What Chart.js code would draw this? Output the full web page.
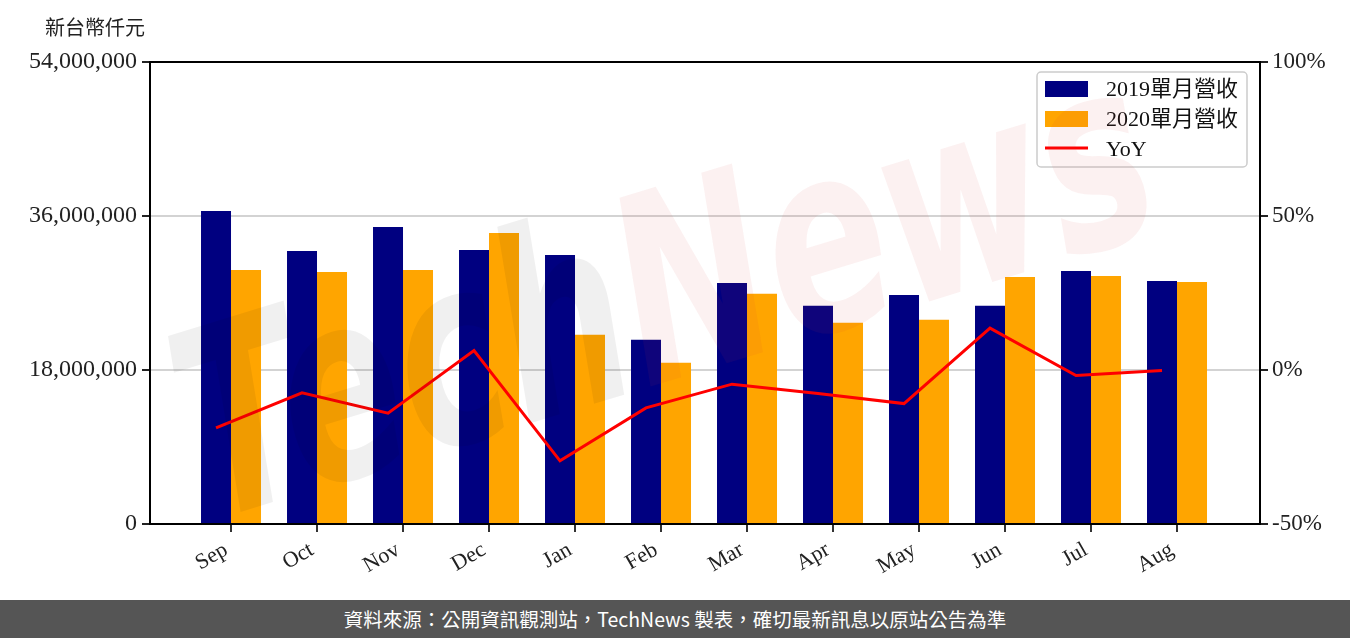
<!DOCTYPE html>
<html>
<head>
<meta charset="utf-8">
<script src="https://cdn.jsdelivr.net/npm/chart.js@4/dist/chart.umd.min.js"></script>
<style>
  html, body { margin: 0; padding: 0; background: #fff; }
  #wrap { position: relative; width: 1350px; height: 600px; }
  #footer { width: 1350px; height: 38px; background: #555555; color: #fff;
    font-family: "Noto Sans CJK TC", "Noto Sans", sans-serif; font-size: 19.5px;
    text-align: center; line-height: 38px; }
</style>
</head>
<body>
<div id="wrap"><canvas id="c" width="1350" height="600"></canvas></div>
<div id="footer">資料來源：公開資訊觀測站，TechNews 製表，確切最新訊息以原站公告為準</div>
<script>
const months = ['Sep','Oct','Nov','Dec','Jan','Feb','Mar','Apr','May','Jun','Jul','Aug'];
const rev2019 = [36.58, 31.91, 34.71, 32.03, 31.45, 21.53, 28.18, 25.50, 26.78, 25.50, 29.58, 28.41].map(v => v * 1e6);
const rev2020 = [29.70, 29.46, 29.70, 34.01, 22.11, 18.84, 26.90, 23.51, 23.86, 28.88, 28.99, 28.30].map(v => v * 1e6);
const yoy = [-18.8, -7.4, -14.0, 6.3, -29.5, -12.3, -4.6, -7.6, -10.9, 13.6, -1.8, -0.2];
const leftTicks = [0, 18000000, 36000000, 54000000];
const rightTicks = [-50, 0, 50, 100];
const seriesNames = ['2019單月營收', '2020單月營收', 'YoY'];
const unitLabel = '新台幣仟元';

const LATIN = '"Liberation Serif", "Noto Sans CJK TC", serif';
const CJK = '"Noto Sans CJK TC", sans-serif';

const lineOffset = -15 / 86;

const framePlugin = {
  id: 'frame',
  afterDraw(chart) {
    const { ctx, chartArea: a } = chart;
    ctx.save();
    ctx.strokeStyle = '#000';
    ctx.lineWidth = 2;
    ctx.beginPath();
    ctx.moveTo(a.left - 1, a.top);
    ctx.lineTo(a.right + 1, a.top);
    ctx.stroke();
    ctx.fillStyle = '#222';
    ctx.font = '20px ' + CJK;
    ctx.textBaseline = 'middle';
    ctx.textAlign = 'left';
    ctx.fillText(unitLabel, 45, 27);
    const bx = 1037, by = 72, bw = 210, bh = 95, r = 4;
    ctx.beginPath();
    ctx.moveTo(bx + r, by);
    ctx.arcTo(bx + bw, by, bx + bw, by + bh, r);
    ctx.arcTo(bx + bw, by + bh, bx, by + bh, r);
    ctx.arcTo(bx, by + bh, bx, by, r);
    ctx.arcTo(bx, by, bx + bw, by, r);
    ctx.closePath();
    ctx.fillStyle = 'rgba(255,255,255,0.8)';
    ctx.fill();
    ctx.strokeStyle = '#cccccc';
    ctx.lineWidth = 1.5;
    ctx.stroke();
    const ds = chart.data.datasets;
    const rows = [89, 119, 149];
    ds.forEach((d, i) => {
      const y = rows[i];
      if (d.type === 'line') {
        ctx.strokeStyle = d.borderColor;
        ctx.lineWidth = 3;
        ctx.beginPath();
        ctx.moveTo(1045, y - 1);
        ctx.lineTo(1088, y - 1);
        ctx.stroke();
      } else {
        ctx.fillStyle = d.backgroundColor;
        ctx.fillRect(1045, y - 8, 43, 16);
      }
      ctx.fillStyle = '#111';
      ctx.font = '22px ' + LATIN;
      ctx.textBaseline = 'middle';
      ctx.fillText(d.label, 1106, y + 1);
    });
    // watermark
    ctx.save();
    ctx.translate(670, 310);
    ctx.rotate(-17 * Math.PI / 180);
    ctx.scale(0.9, 1.3);
    ctx.font = 'italic bold 200px "DejaVu Sans", sans-serif';
    ctx.textBaseline = 'middle';
    const w1 = ctx.measureText('Tech').width;
    const w2 = ctx.measureText('News').width;
    const start = -(w1 + w2) / 2;
    ctx.textAlign = 'left';
    ctx.fillStyle = 'rgba(0,0,0,0.06)';
    ctx.fillText('Tech', start, 0);
    ctx.fillStyle = 'rgba(215,50,60,0.07)';
    ctx.fillText('News', start + w1, 0);
    ctx.restore();
    ctx.restore();
  }
};

new Chart(document.getElementById('c'), {
  data: {
    datasets: [
      { type: 'bar', label: seriesNames[0], data: months.map((m, i) => ({ x: i, y: rev2019[i] })),
        backgroundColor: '#000080', yAxisID: 'y', order: 2 },
      { type: 'bar', label: seriesNames[1], data: months.map((m, i) => ({ x: i, y: rev2020[i] })),
        backgroundColor: '#FFA500', yAxisID: 'y', order: 2 },
      { type: 'line', label: seriesNames[2], data: months.map((m, i) => ({ x: i + lineOffset, y: yoy[i] })),
        borderColor: '#FF0000', backgroundColor: '#FF0000', borderWidth: 3, pointRadius: 0,
        tension: 0, yAxisID: 'y1', order: 1 }
    ]
  },
  options: {
    responsive: false,
    animation: false,
    layout: { padding: { top: 62, left: 0, right: 0, bottom: 0 } },
    datasets: { bar: { categoryPercentage: 60 / 86, barPercentage: 1.0 } },
    plugins: { legend: { display: false }, tooltip: { enabled: false } },
    scales: {
      x: {
        type: 'linear',
        offset: false,
        min: -0.942, max: 11.965,
        afterBuildTicks: s => { s.ticks = months.map((m, i) => ({ value: i })); },
        afterFit: s => { s.height = 76; },
        ticks: {
          autoSkip: false, maxRotation: 30, minRotation: 30, padding: 5, labelOffset: -5,
          color: '#222', font: { family: LATIN, size: 22 },
          callback: v => months[v]
        },
        grid: { offset: false, drawOnChartArea: false, tickLength: 8, tickColor: '#333', lineWidth: 2 },
        border: { color: '#000', width: 2 }
      },
      y: {
        position: 'left', min: 0, max: 54000000,
        afterBuildTicks: s => { s.ticks = leftTicks.map(v => ({ value: v })); },
        afterFit: s => { s.width = 150; },
        ticks: {
          padding: 5, color: '#222', font: { family: LATIN, size: 24 },
          callback: v => v.toLocaleString('en-US')
        },
        grid: {
          color: c => (c.tick && (c.tick.value === 0 || c.tick.value === 54000000)) ? 'rgba(0,0,0,0)' : '#d3d3d3',
          lineWidth: 2, tickLength: 8, tickColor: '#222'
        },
        border: { color: '#000', width: 2 }
      },
      y1: {
        position: 'right', min: -50, max: 100,
        afterBuildTicks: s => { s.ticks = rightTicks.map(v => ({ value: v })); },
        afterFit: s => { s.width = 90; },
        ticks: {
          padding: 4, color: '#222', font: { family: LATIN, size: 23 },
          callback: v => v + '%'
        },
        grid: { drawOnChartArea: false, tickLength: 8, tickColor: '#222', lineWidth: 2 },
        border: { color: '#000', width: 2 }
      }
    }
  },
  plugins: [framePlugin]
});
</script>
</body>
</html>
